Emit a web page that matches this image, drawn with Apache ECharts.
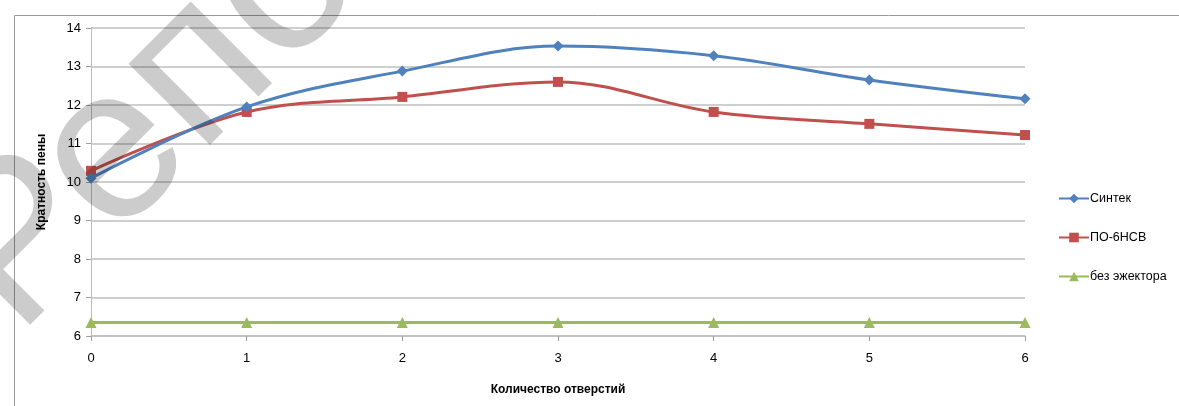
<!DOCTYPE html>
<html>
<head>
<meta charset="utf-8">
<script src="https://cdn.jsdelivr.net/npm/echarts@6/dist/echarts.min.js"></script>
<style>
html,body{margin:0;padding:0;background:#fff;}
#chart{width:1179px;height:406px;}
</style>
</head>
<body>
<div id="chart"></div>
<script>
var categories = ['0', '1', '2', '3', '4', '5', '6'];
var sintek = [10.10, 11.95, 12.88, 13.53, 13.28, 12.65, 12.16];
var po6nsv = [10.29, 11.82, 12.21, 12.60, 11.82, 11.51, 11.22];
var bezEjektora = [6.35, 6.35, 6.35, 6.35, 6.35, 6.35, 6.35];
var seriesNames = ['Синтек', 'ПО-6НСВ', 'без эжектора'];
var yTicks = [6, 7, 8, 9, 10, 11, 12, 13, 14];
var xTitle = 'Количество отверстий';
var yTitle = 'Кратность пены';
var watermark = 'Репо';

var font = '"Liberation Sans", Arial, sans-serif';
var chart = echarts.init(document.getElementById('chart'));
chart.setOption({
  animation: false,
  backgroundColor: '#fff',
  grid: { left: 91, right: 154, top: 28, bottom: 70, containLabel: false },
  legend: {
    orient: 'vertical',
    left: 1053,
    top: 187,
    itemGap: 26,
    itemWidth: 30,
    itemHeight: 12,
    textStyle: { fontFamily: font, fontSize: 12.5, color: '#000', padding: [0, 0, 0, -4] },
    data: seriesNames
  },
  xAxis: {
    type: 'category',
    data: categories,
    boundaryGap: false,
    name: xTitle,
    nameLocation: 'middle',
    nameGap: 48,
    nameTextStyle: { fontFamily: font, fontSize: 12, fontWeight: 'bold', color: '#000' },
    axisLine: { lineStyle: { color: '#bdbdbd', width: 1.5 } },
    axisTick: { show: true, length: 5, lineStyle: { color: '#a0a0a0' } },
    axisLabel: { fontFamily: font, fontSize: 13, color: '#000', margin: 16 },
    splitLine: { show: false }
  },
  yAxis: {
    type: 'value',
    min: 6, max: 14, interval: 1,
    name: yTitle,
    nameLocation: 'middle',
    nameGap: 43,
    nameRotate: 90,
    nameTextStyle: { fontFamily: font, fontSize: 12, fontWeight: 'bold', color: '#000' },
    axisLine: { show: true, lineStyle: { color: '#bdbdbd', width: 1 } },
    axisTick: { show: true, length: 5, lineStyle: { color: '#a0a0a0' } },
    axisLabel: { fontFamily: font, fontSize: 13, color: '#000', margin: 10,
      formatter: function (v) { return yTicks.indexOf(v) >= 0 ? String(v) : ''; } },
    splitLine: { show: true, lineStyle: { color: '#bfbfbf', width: 1.5 } }
  },
  series: [
    { name: seriesNames[0], type: 'line', data: sintek, smooth: 0.35,
      symbol: 'diamond', symbolSize: 11, itemStyle: { color: '#4F81BD' },
      lineStyle: { color: '#4F81BD', width: 3 }, z: 4 },
    { name: seriesNames[1], type: 'line', data: po6nsv, smooth: 0.35,
      symbol: 'rect', symbolSize: 10, itemStyle: { color: '#C0504D' },
      lineStyle: { color: '#C0504D', width: 3 }, z: 3 },
    { name: seriesNames[2], type: 'line', data: bezEjektora, smooth: 0.35,
      symbol: 'triangle', symbolSize: 11, itemStyle: { color: '#9BBB59' },
      lineStyle: { color: '#9BBB59', width: 3 }, z: 2 }
  ],
  graphic: [
    { type: 'rect', left: 12, top: 13, z: -10, silent: true,
      shape: { width: 1200, height: 420 },
      style: { fill: 'none', stroke: '#9a9a9a', lineWidth: 1 } },
    { type: 'text', x: 52, y: 372, rotation: Math.PI / 4, z: 100, silent: true,
      style: { text: watermark, font: '218px "Liberation Sans", Arial, sans-serif',
        fill: 'rgba(0,0,0,0.2)', textAlign: 'left', textVerticalAlign: 'bottom' } }
  ]
});
</script>
</body>
</html>
